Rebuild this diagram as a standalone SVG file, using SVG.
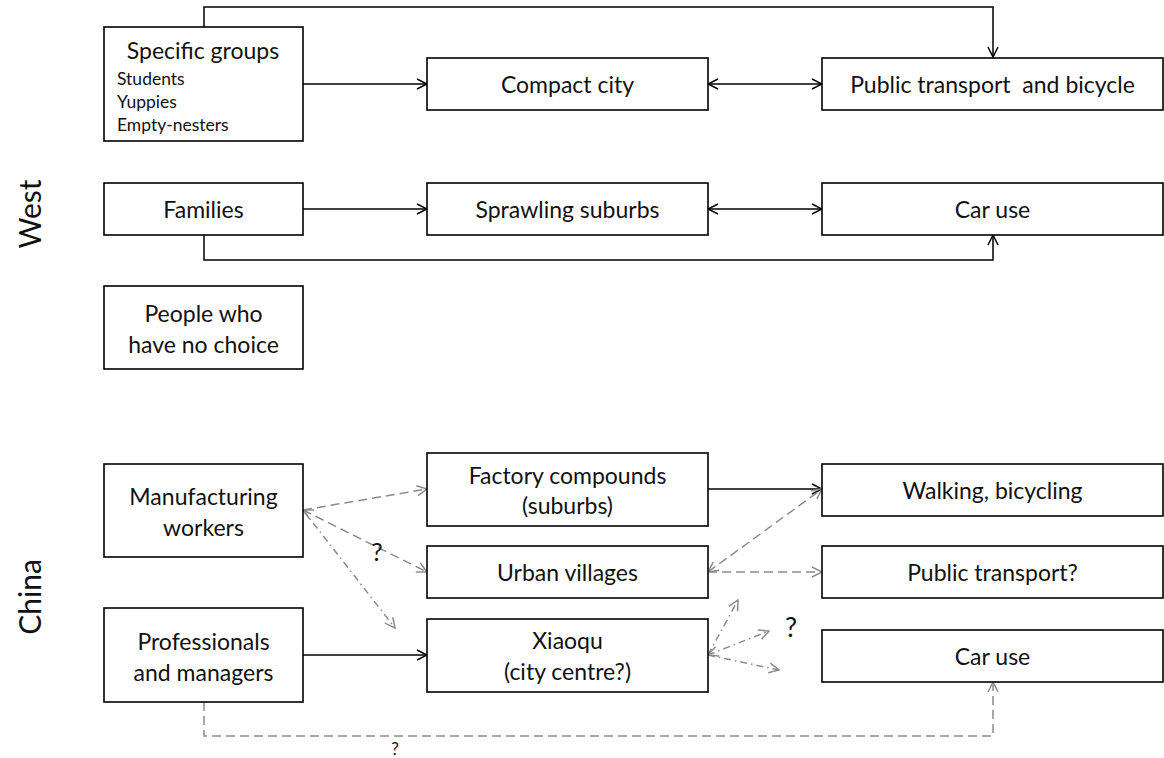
<svg xmlns="http://www.w3.org/2000/svg" width="1164" height="758" viewBox="0 0 1164 758">
<style>
.box{fill:#fff;stroke:#000;stroke-width:1.6}
.t{font-family:Lato,"Liberation Sans",sans-serif;font-size:23px;fill:#111;text-anchor:middle;dominant-baseline:central}
.s{font-family:Lato,"Liberation Sans",sans-serif;font-size:17.5px;fill:#111;dominant-baseline:central}
.lab{font-family:Lato,"Liberation Sans",sans-serif;font-size:30px;fill:#111;text-anchor:middle;dominant-baseline:central}
.q{font-family:Lato,"Liberation Sans",sans-serif;fill:#111;text-anchor:middle;dominant-baseline:central}
.k{fill:none;stroke:#000;stroke-width:1.5}
.g{fill:none;stroke:#8c8c8c;stroke-width:1.5;stroke-dasharray:9,5}
.gd{fill:none;stroke:#8c8c8c;stroke-width:1.5;stroke-dasharray:7,4,1.5,4}
</style>
<defs>
<marker id="ak" viewBox="0 0 12 12" refX="11" refY="6" markerWidth="12" markerHeight="12" markerUnits="userSpaceOnUse" orient="auto-start-reverse"><path d="M1,1 L11,6 L1,11" fill="none" stroke="#000" stroke-width="1.5"/></marker>
<marker id="ag" viewBox="0 0 12 12" refX="11" refY="6" markerWidth="12" markerHeight="12" markerUnits="userSpaceOnUse" orient="auto-start-reverse"><path d="M1,1 L11,6 L1,11" fill="none" stroke="#8c8c8c" stroke-width="1.5"/></marker>
</defs>
<rect width="1164" height="758" fill="#fff"/>
<text class="lab" transform="translate(29,214) rotate(-90)">West</text>
<text class="lab" transform="translate(29,597) rotate(-90)">China</text>
<g id="connectors">
<path class="k" d="M204,27 V7 H993 V57" marker-end="url(#ak)"/>
<path class="k" d="M303,84 H427" marker-end="url(#ak)"/>
<path class="k" d="M708,84 H822" marker-start="url(#ak)" marker-end="url(#ak)"/>
<path class="k" d="M303,209 H427" marker-end="url(#ak)"/>
<path class="k" d="M708,209 H822" marker-start="url(#ak)" marker-end="url(#ak)"/>
<path class="k" d="M204,235 V260 H993 V235" marker-end="url(#ak)"/>
<path class="k" d="M708,489 H822" marker-end="url(#ak)"/>
<path class="k" d="M303,655 H427" marker-end="url(#ak)"/>
<path class="g" d="M303,510 L427,489" marker-end="url(#ag)"/>
<path class="g" d="M303,510 L427,572" marker-start="url(#ag)" marker-end="url(#ag)"/>
<path class="gd" d="M303,510 L395,628" marker-end="url(#ag)"/>
<path class="g" d="M708,572 L822,489" marker-start="url(#ag)" marker-end="url(#ag)"/>
<path class="g" d="M708,572 L822,572" marker-end="url(#ag)"/>
<path class="gd" d="M708,655 L738,600" marker-end="url(#ag)"/>
<path class="gd" d="M708,655 L769,631" marker-start="url(#ag)" marker-end="url(#ag)"/>
<path class="gd" d="M708,655 L779,670" marker-end="url(#ag)"/>
<path class="g" d="M204,702 V736 H993 V682" marker-end="url(#ag)"/>
<text class="q" x="377" y="551" font-size="25">?</text>
<text class="q" x="791" y="626" font-size="27">?</text>
<text class="q" x="395" y="748" font-size="17">?</text>
</g>
<g id="specific"><rect class="box" x="104" y="27" width="199" height="114"/><text class="t" x="203" y="50">Specific groups</text><text class="s" x="117" y="78">Students</text><text class="s" x="117" y="101">Yuppies</text><text class="s" x="117" y="124">Empty-nesters</text></g>
<g id="compact"><rect class="box" x="427" y="58" width="281" height="52"/><text class="t" x="567.5" y="84">Compact city</text></g>
<g id="ptbike"><rect class="box" x="822" y="58" width="341" height="52"/><text class="t" x="992.5" y="84" xml:space="preserve">Public transport  and bicycle</text></g>
<g id="families"><rect class="box" x="104" y="183" width="199" height="52"/><text class="t" x="203.5" y="209">Families</text></g>
<g id="sprawl"><rect class="box" x="427" y="183" width="281" height="52"/><text class="t" x="567.5" y="209">Sprawling suburbs</text></g>
<g id="caruse-w"><rect class="box" x="822" y="183" width="341" height="52"/><text class="t" x="992.5" y="209">Car use</text></g>
<g id="nochoice"><rect class="box" x="104" y="286" width="199" height="83"/><text class="t" x="203.5" y="313">People who</text><text class="t" x="203.5" y="344">have no choice</text></g>
<g id="manuf"><rect class="box" x="104" y="464" width="199" height="93"/><text class="t" x="203.5" y="496">Manufacturing</text><text class="t" x="203.5" y="527">workers</text></g>
<g id="factory"><rect class="box" x="427" y="453" width="281" height="73"/><text class="t" x="567.5" y="475">Factory compounds</text><text class="t" x="567.5" y="505">(suburbs)</text></g>
<g id="walk"><rect class="box" x="822" y="464" width="341" height="52"/><text class="t" x="992.5" y="490">Walking, bicycling</text></g>
<g id="urban"><rect class="box" x="427" y="546" width="281" height="52"/><text class="t" x="567.5" y="572">Urban villages</text></g>
<g id="pt"><rect class="box" x="822" y="546" width="341" height="52"/><text class="t" x="992.5" y="572">Public transport?</text></g>
<g id="prof"><rect class="box" x="104" y="608" width="199" height="94"/><text class="t" x="203.5" y="641">Professionals</text><text class="t" x="203.5" y="672">and managers</text></g>
<g id="xiaoqu"><rect class="box" x="427" y="619" width="281" height="73"/><text class="t" x="567.5" y="640">Xiaoqu</text><text class="t" x="567.5" y="671">(city centre?)</text></g>
<g id="caruse-c"><rect class="box" x="822" y="630" width="341" height="52"/><text class="t" x="992.5" y="656">Car use</text></g>
</svg>
